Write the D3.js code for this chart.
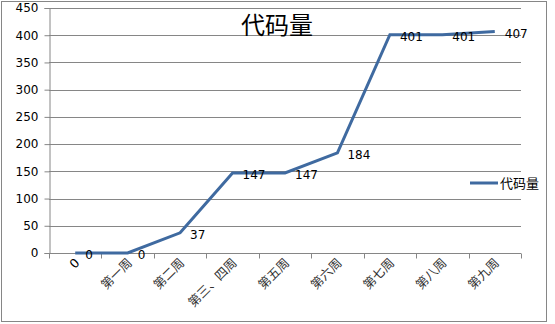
<!DOCTYPE html>
<html>
<head>
<meta charset="utf-8">
<script src="https://cdn.jsdelivr.net/npm/d3@7"></script>
<style>
  body { margin: 0; background: #fff; }
  text { font-family: "DejaVu Sans", "Noto Sans CJK SC", sans-serif; }
</style>
</head>
<body>
<div id="chart"></div>
<script>
const weeks = ['0', '第一周', '第二周', '第三、四周', '第五周', '第六周', '第七周', '第八周', '第九周'];
const codeLines = [0, 0, 37, 147, 147, 184, 401, 401, 407];
const yTicks = [0, 50, 100, 150, 200, 250, 300, 350, 400, 450];
const seriesName = '代码量';

const width = 555, height = 324;
const margin = { top: 8, right: 34, bottom: 71, left: 49 };

const svg = d3.select('#chart').append('svg')
    .attr('width', width)
    .attr('height', height);

// outer frame
svg.append('rect')
    .attr('x', 1.5).attr('y', 1.5)
    .attr('width', 545).attr('height', 320)
    .attr('fill', '#fff')
    .attr('stroke', '#868686');

const x = d3.scaleBand()
    .domain(weeks)
    .range([margin.left, width - margin.right]);

const y = d3.scaleLinear()
    .domain([0, 450])
    .range([height - margin.bottom, margin.top]);

// gridlines
svg.append('g')
    .selectAll('line')
    .data(yTicks)
    .join('line')
    .attr('x1', margin.left).attr('x2', width - margin.right)
    .attr('y1', d => Math.round(y(d)) + 0.5).attr('y2', d => Math.round(y(d)) + 0.5)
    .attr('stroke', '#868686');

// y axis
const yAxis = svg.append('g')
    .attr('transform', `translate(${margin.left + 0.5},0)`)
    .call(d3.axisLeft(y).tickValues(yTicks).tickSize(5).tickPadding(6));
yAxis.select('.domain').attr('stroke', '#868686');
yAxis.selectAll('.tick line').attr('stroke', '#868686');
yAxis.selectAll('.tick text').attr('font-size', 12).attr('fill', '#000')
    .attr('font-family', 'Verdana, "DejaVu Sans", sans-serif');

// x axis with ticks on band boundaries
const xAxisG = svg.append('g')
    .attr('transform', `translate(0,${Math.round(y(0)) + 0.5})`);
xAxisG.append('line')
    .attr('x1', margin.left).attr('x2', width - margin.right)
    .attr('stroke', '#868686');
const bounds = weeks.map(w => x(w)).concat([x(weeks[weeks.length - 1]) + x.bandwidth()]);
xAxisG.selectAll('.xt')
    .data(bounds)
    .join('line')
    .attr('class', 'xt')
    .attr('x1', d => Math.round(d) + 0.5).attr('x2', d => Math.round(d) + 0.5)
    .attr('y1', 0).attr('y2', 5)
    .attr('stroke', '#868686');
xAxisG.selectAll('.xl')
    .data(weeks)
    .join('text')
    .attr('class', 'xl')
    .attr('transform', d => `translate(${x(d) + x.bandwidth() / 2 + 2},7) rotate(-45)`)
    .attr('text-anchor', 'end')
    .attr('dy', '0.35em')
    .attr('font-size', 12.5)
    .attr('fill', d => d === '0' ? '#000' : '#333')
    .text(d => d);

// line
const line = d3.line()
    .x((d, i) => x(weeks[i]) + x.bandwidth() / 2)
    .y(d => y(d));

svg.append('path')
    .datum(codeLines)
    .attr('d', line)
    .attr('fill', 'none')
    .attr('stroke', '#3F6AA0')
    .attr('stroke-width', 3)
    .attr('stroke-linejoin', 'miter');

// data labels
svg.append('g')
    .selectAll('text')
    .data(codeLines)
    .join('text')
    .attr('x', (d, i) => x(weeks[i]) + x.bandwidth() / 2 + 10)
    .attr('y', d => y(d) + 2)
    .attr('dy', '0.35em')
    .attr('font-size', 12)
    .attr('font-family', 'Verdana, "DejaVu Sans", sans-serif')
    .attr('fill', '#000')
    .text(d => d);

// title
svg.append('text')
    .attr('x', 277)
    .attr('y', 34)
    .attr('text-anchor', 'middle')
    .attr('font-size', 24)
    .attr('font-family', '"Noto Serif CJK SC", "Noto Sans CJK SC", serif')
    .attr('fill', '#000')
    .text(seriesName);

// legend
const legend = svg.append('g').attr('transform', 'translate(470,183)');
legend.append('line')
    .attr('x1', 0).attr('x2', 28)
    .attr('stroke', '#3F6AA0')
    .attr('stroke-width', 3);
legend.append('text')
    .attr('x', 30)
    .attr('dy', '0.35em')
    .attr('font-size', 13)
    .attr('font-family', '"Noto Sans CJK SC", sans-serif')
    .attr('fill', '#000')
    .text(seriesName);
</script>
</body>
</html>
